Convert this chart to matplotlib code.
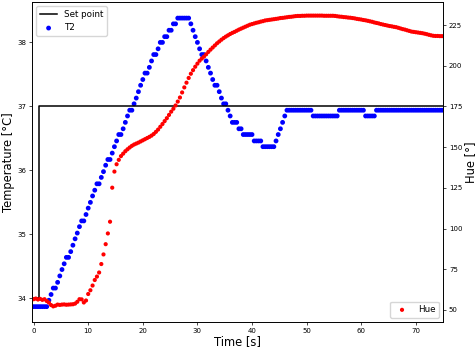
import numpy as np
import matplotlib.pyplot as plt

# логгер пишет отсчёт каждые 0.4 с
sample_dt = 0.4

# T2, °C (датчик ступенчатый, шаг ~0.096)
t2_values = [
    33.87, 33.87, 33.87, 33.87, 33.87, 33.87, 33.87,
    33.97, 34.06, 34.16, 34.16, 34.25, 34.35, 34.45, 34.54, 34.64, 34.64,
    34.73, 34.83, 34.93, 35.02, 35.12, 35.21,
    35.21, 35.31, 35.41, 35.50, 35.60, 35.69, 35.79, 35.79,
    35.89, 35.98, 36.08, 36.17, 36.17, 36.27, 36.37, 36.46, 36.56, 36.56,
    36.65, 36.75, 36.85, 36.94, 36.94, 37.04,
    37.13, 37.23, 37.33, 37.42, 37.52, 37.52, 37.61, 37.71,
    37.81, 37.81, 37.90, 38.00, 38.00, 38.09, 38.09, 38.19,
    38.19, 38.29, 38.29, 38.38, 38.38, 38.38, 38.38, 38.38, 38.38,
    38.29, 38.19, 38.09, 38.00, 37.90, 37.81, 37.81, 37.71, 37.61, 37.52,
    37.42, 37.33, 37.33, 37.23, 37.13, 37.04,
    37.04, 36.94, 36.85, 36.75, 36.75, 36.75, 36.65, 36.65, 36.56,
    36.56, 36.56, 36.56, 36.56,
    36.46, 36.46, 36.46, 36.46,
    36.37, 36.37, 36.37, 36.37, 36.37, 36.37,
    36.46, 36.56, 36.65, 36.75, 36.85, 36.94,
    36.94, 36.94, 36.94, 36.94, 36.94, 36.94, 36.94, 36.94, 36.94, 36.94, 36.94,
    36.85, 36.85, 36.85, 36.85, 36.85, 36.85, 36.85, 36.85, 36.85, 36.85, 36.85, 36.85,
    36.94, 36.94, 36.94, 36.94, 36.94, 36.94, 36.94, 36.94, 36.94, 36.94, 36.94, 36.94,
    36.85, 36.85, 36.85, 36.85, 36.85,
    36.94, 36.94, 36.94, 36.94, 36.94, 36.94, 36.94, 36.94, 36.94, 36.94,
    36.94, 36.94, 36.94, 36.94, 36.94, 36.94, 36.94, 36.94, 36.94, 36.94,
    36.94, 36.94, 36.94, 36.94, 36.94, 36.94, 36.94, 36.94, 36.94, 36.94, 36.94,
]

# Hue, градусы
hue_values = [
    56.6, 57.0, 56.4, 56.8, 56.2, 56.6, 55.5, 54.5, 53.0, 52.2,
    52.6, 53.3, 53.1, 53.3, 53.4, 53.2, 53.3, 53.4, 53.5, 53.9,
    55.0, 56.6, 56.5, 54.6, 55.8, 59.8, 62.1, 65.0, 68.4, 70.5,
    73.0, 78.2, 84.1, 90.4, 97.0, 104.2, 125.1, 135.0, 139.5, 142.2,
    144.5, 146.0, 147.5, 148.7, 149.8, 150.8, 151.6, 152.2, 152.8, 153.5,
    154.2, 154.9, 155.6, 156.3, 157.1, 158.1, 159.4, 160.8, 162.5, 164.2,
    166.0, 167.8, 169.8, 171.8, 173.6, 175.6, 178.0, 180.5, 183.6, 186.7,
    189.6, 192.5, 195.1, 197.3, 199.4, 201.3, 203.1, 204.4, 205.6, 207.0,
    208.5, 209.9, 211.2, 212.5, 213.8, 214.9, 216.0, 217.0, 217.9, 218.7,
    219.5, 220.2, 220.8, 221.5, 222.2, 222.8, 223.4, 224.0, 224.6, 225.2,
    225.6, 226.0, 226.4, 226.7, 227.1, 227.4, 227.8, 228.0, 228.2, 228.4,
    228.6, 228.8, 229.0, 229.3, 229.4, 229.6, 229.8, 230.0, 230.1, 230.3,
    230.5, 230.6, 230.6, 230.7, 230.7, 230.8, 230.8, 230.8, 230.8, 230.8,
    230.8, 230.8, 230.8, 230.7, 230.7, 230.7, 230.7, 230.7, 230.6, 230.4,
    230.2, 230.1, 229.9, 229.8, 229.6, 229.5, 229.3, 229.1, 228.8, 228.6,
    228.4, 228.1, 227.9, 227.6, 227.3, 227.0, 226.6, 226.3, 226.0, 225.6,
    225.3, 225.0, 224.7, 224.4, 224.2, 223.9, 223.7, 223.3, 222.9, 222.5,
    222.2, 221.8, 221.4, 221.0, 220.8, 220.6, 220.4, 220.2, 220.0, 219.7,
    219.4, 219.0, 218.7, 218.4, 218.3, 218.3, 218.2, 218.2,
]

# уставка: 34 -> 37 почти сразу после старта
setpoint_time = [0, 0.95, 0.95, 75]
setpoint_values = [34, 34, 37, 37]

time_s = np.arange(len(t2_values)) * sample_dt

fig, ax1 = plt.subplots(figsize=(4.77, 3.5), dpi=100)
fig.subplots_adjust(left=0.067, right=0.929, bottom=0.08, top=0.994)
ax2 = ax1.twinx()

ax1.plot(setpoint_time, setpoint_values, color="black", lw=1.1, label="Set point")
ax1.scatter(time_s, t2_values, s=12, color="blue", edgecolors="none", label="T2")
ax2.scatter(time_s, hue_values, s=9, color="red", edgecolors="none", label="Hue")

ax1.set_xlim(-0.3, 75)
ax1.set_ylim(33.63, 38.63)
ax2.set_ylim(42.6, 239.1)

ax1.set_xlabel("Time [s]", fontsize=8.3, labelpad=1)
ax1.set_ylabel("Temperature [°C]", fontsize=8.3, labelpad=1.5)
ax2.set_ylabel("Hue [°]", fontsize=8.3, labelpad=1)

for ax in (ax1, ax2):
    ax.tick_params(labelsize=5, width=0.5, length=2.2, pad=2)
    for sp in ax.spines.values():
        sp.set_linewidth(0.6)

ax1.legend(loc="upper left", fontsize=6.3)
ax2.legend(loc="lower right", fontsize=6.3)

plt.savefig("out.png")
plt.close()
